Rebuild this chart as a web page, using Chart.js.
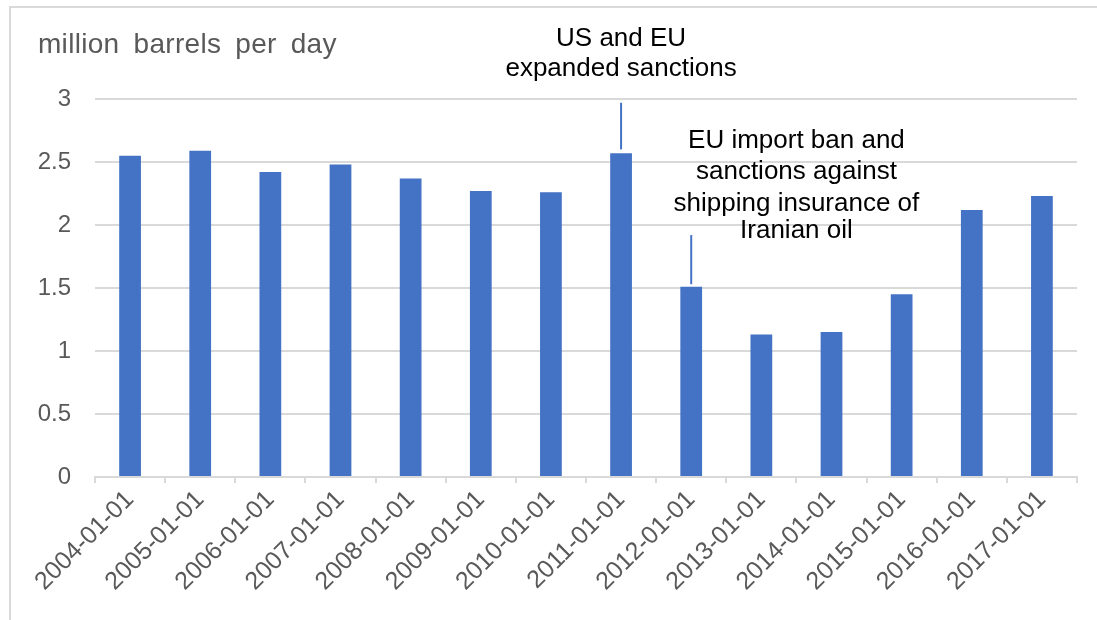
<!DOCTYPE html>
<html>
<head>
<meta charset="utf-8">
<script src="https://cdn.jsdelivr.net/npm/chart.js@4"></script>
<style>
  html, body { margin: 0; padding: 0; background: #fff; overflow: hidden; }
  #wrap { position: relative; width: 1097px; height: 620px; }
  #frame { position: absolute; left: 9px; top: 6px; width: 1200px; height: 700px;
           border-top: 2px solid #d9d9d9; border-left: 2px solid #d9d9d9; }
  canvas { position: absolute; left: 0; top: 0; }
</style>
</head>
<body>
<div id="wrap">
  <div id="frame"></div>
  <canvas id="chart" width="1097" height="620"></canvas>
</div>
<script>
/* ===== DATA ===== */
const years = ["2004-01-01", "2005-01-01", "2006-01-01", "2007-01-01", "2008-01-01",
  "2009-01-01", "2010-01-01", "2011-01-01", "2012-01-01", "2013-01-01",
  "2014-01-01", "2015-01-01", "2016-01-01", "2017-01-01"];
const exports = [2.55, 2.59, 2.42, 2.48, 2.37, 2.27, 2.26, 2.57, 1.51, 1.13, 1.15, 1.45, 2.12, 2.23];
const yTicks = [0, 0.5, 1, 1.5, 2, 2.5, 3];
const axisTitle = "million barrels per day";

/* annotation texts, placed in data units */
const noteText = [
  ["US and EU", "expanded sanctions"],
  ["EU import ban and", "sanctions against", "shipping insurance of", "Iranian oil"]
];
const noteTextX = [7, 9.5];
const noteTextY = [[3.48, 3.24], [2.67, 2.42, 2.17, 1.95]];
/* leader lines: category, from value, to value */
const leaderX = [7, 8];
const leaderFrom = [2.60, 1.53];
const leaderTo = [2.97, 1.92];

const BLUE = "#4472C4";
const GRID = "#d9d9d9";
const FONT = "'Liberation Sans', Arial, sans-serif";

/* ===== EXTRA DRAWING ===== */
const notesPlugin = {
  id: "notes",
  afterDatasetsDraw(chart) {
    const ctx = chart.ctx;
    const xs = chart.scales.x;
    const ys = chart.scales.y;
    const step = xs.getPixelForValue(1) - xs.getPixelForValue(0);

    ctx.save();
    // axis title
    ctx.font = "28px " + FONT;
    ctx.fillStyle = "#595959";
    ctx.textAlign = "left";
    ctx.textBaseline = "middle";
    ctx.letterSpacing = "0.3px";
    ctx.wordSpacing = "6px";
    ctx.fillText(axisTitle, 38, 45);
    ctx.letterSpacing = "0px";
    ctx.wordSpacing = "0px";

    // leader lines
    ctx.strokeStyle = BLUE;
    ctx.lineWidth = 2;
    leaderX.forEach((c, i) => {
      const x = xs.getPixelForValue(c);
      ctx.beginPath();
      ctx.moveTo(x, ys.getPixelForValue(leaderFrom[i]));
      ctx.lineTo(x, ys.getPixelForValue(leaderTo[i]));
      ctx.stroke();
    });

    // note texts
    ctx.font = "26px " + FONT;
    ctx.fillStyle = "#000";
    ctx.textAlign = "center";
    noteText.forEach((lines, i) => {
      const x = xs.getPixelForValue(Math.floor(noteTextX[i])) + (noteTextX[i] % 1) * step;
      lines.forEach((t, j) => {
        ctx.fillText(t, x, ys.getPixelForValue(noteTextY[i][j]));
      });
    });
    ctx.restore();
  }
};

/* ===== CHART ===== */
new Chart(document.getElementById("chart"), {
  type: "bar",
  data: {
    labels: years,
    datasets: [{
      data: exports,
      backgroundColor: BLUE,
      borderWidth: 0,
      categoryPercentage: 1,
      barPercentage: 0.31
    }]
  },
  options: {
    responsive: false,
    animation: false,
    layout: { padding: { top: 99, right: 20, bottom: 0, left: 0 } },
    plugins: {
      legend: { display: false },
      tooltip: { enabled: false }
    },
    scales: {
      x: {
        afterFit: s => { s.height = 143; },
        grid: { drawOnChartArea: false, drawTicks: true, tickLength: 6, color: GRID, lineWidth: 2 },
        border: { display: true, color: GRID, width: 2 },
        ticks: {
          minRotation: 45, maxRotation: 45, autoSkip: false, padding: 2,
          color: "#595959", font: { family: FONT, size: 25 }
        }
      },
      y: {
        min: 0, max: 3,
        afterFit: s => { s.width = 95; },
        afterBuildTicks: s => { s.ticks = yTicks.map(v => ({ value: v })); },
        grid: { color: GRID, lineWidth: 2, drawTicks: false },
        border: { display: false },
        ticks: {
          padding: 24, color: "#595959", font: { family: FONT, size: 24 },
          callback: v => String(v)
        }
      }
    }
  },
  plugins: [notesPlugin]
});
</script>
</body>
</html>
